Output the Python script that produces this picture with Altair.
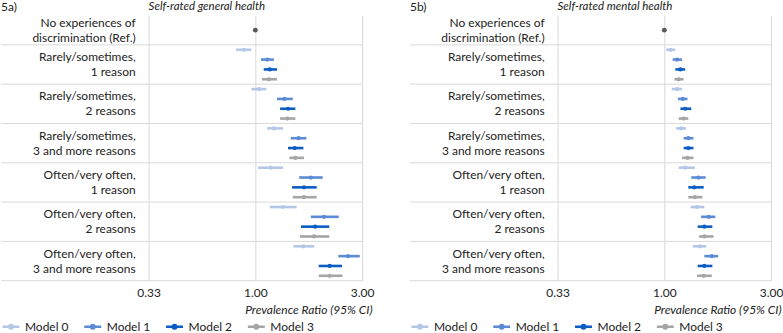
import altair as alt
import pandas as pd

categories = [
    "No experiences of\ndiscrimination (Ref.)",
    "Rarely/sometimes,\n1 reason",
    "Rarely/sometimes,\n2 reasons",
    "Rarely/sometimes,\n3 and more reasons",
    "Often/very often,\n1 reason",
    "Often/very often,\n2 reasons",
    "Often/very often,\n3 and more reasons",
]
models = ["Model 0", "Model 1", "Model 2", "Model 3"]
model_colors = ["#b4c7e7", "#5b8bd5", "#0b5cc3", "#a5a5a5"]
ref_value = 1.0
tick_values = [1 / 3, 1, 3]

# 5a) Self-rated general health (non-reference categories, per model)
gen_m0_est = [0.89, 1.04, 1.21, 1.17, 1.33, 1.64]
gen_m0_lo = [0.82, 0.96, 1.13, 1.03, 1.16, 1.48]
gen_m0_hi = [0.96, 1.12, 1.33, 1.33, 1.53, 1.83]
gen_m1_est = [1.13, 1.35, 1.56, 1.77, 2.03, 2.60]
gen_m1_lo = [1.06, 1.25, 1.44, 1.57, 1.77, 2.35]
gen_m1_hi = [1.21, 1.47, 1.69, 2.00, 2.36, 2.93]
gen_m2_est = [1.16, 1.40, 1.50, 1.65, 1.85, 2.15]
gen_m2_lo = [1.09, 1.29, 1.40, 1.46, 1.60, 1.92]
gen_m2_hi = [1.25, 1.51, 1.64, 1.88, 2.14, 2.44]
gen_m3_est = [1.15, 1.39, 1.51, 1.65, 1.83, 2.15]
gen_m3_lo = [1.07, 1.29, 1.42, 1.47, 1.58, 1.92]
gen_m3_hi = [1.25, 1.51, 1.65, 1.88, 2.14, 2.45]

# 5b) Self-rated mental health
men_m0_est = [1.07, 1.14, 1.19, 1.24, 1.40, 1.44]
men_m0_lo = [1.02, 1.08, 1.13, 1.16, 1.31, 1.34]
men_m0_hi = [1.12, 1.20, 1.25, 1.37, 1.51, 1.54]
men_m1_est = [1.14, 1.21, 1.28, 1.42, 1.58, 1.63]
men_m1_lo = [1.09, 1.15, 1.22, 1.32, 1.46, 1.51]
men_m1_hi = [1.20, 1.27, 1.35, 1.53, 1.69, 1.74]
men_m2_est = [1.18, 1.24, 1.28, 1.36, 1.51, 1.51]
men_m2_lo = [1.12, 1.18, 1.22, 1.28, 1.41, 1.41]
men_m2_hi = [1.24, 1.32, 1.35, 1.50, 1.64, 1.64]
men_m3_est = [1.16, 1.22, 1.27, 1.37, 1.51, 1.50]
men_m3_lo = [1.11, 1.16, 1.20, 1.28, 1.43, 1.40]
men_m3_hi = [1.22, 1.28, 1.35, 1.48, 1.66, 1.63]

FONT = "Lato"
TXT = "#222222"
GRID = "#d9d9d9"
W, H = 214, 266
LABEL_W = 148

# slot layout: reference row uses 3 slots, every other row 4 slots (one per model)
REF_SLOTS = 3
ROW_SLOTS = 4
N_SLOTS = REF_SLOTS + ROW_SLOTS * (len(categories) - 1)


def panel(tag, title, est, lo, hi):
    rows = []
    for j, m in enumerate(models):
        for i in range(len(categories) - 1):
            rows.append(dict(model=m, pos=REF_SLOTS + ROW_SLOTS * i + j + 0.5,
                             est=est[j][i], lo=lo[j][i], hi=hi[j][i]))
    df = pd.DataFrame(rows)
    ref = pd.DataFrame({"pos": [REF_SLOTS / 2], "est": [ref_value]})
    lab = pd.DataFrame({"label": categories,
                        "pos": [REF_SLOTS / 2] + [REF_SLOTS + ROW_SLOTS * i + ROW_SLOTS / 2
                                                   for i in range(len(categories) - 1)]})
    grid = pd.DataFrame({"b": [REF_SLOTS + ROW_SLOTS * i for i in range(len(categories))]})
    tagdf = pd.DataFrame({"t": [tag]})
    titledf = pd.DataFrame({"t": [title]})

    yscale = alt.Scale(domain=[0, N_SLOTS], reverse=True, nice=False, zero=False)
    xscale = alt.Scale(type="log", domain=[1 / 3, 3], nice=False)
    cscale = alt.Scale(domain=models, range=model_colors)
    xaxis = alt.Axis(values=tick_values, format=".2f", ticks=False, domain=False,
                     grid=True, gridColor=GRID, gridWidth=1, labelFlush=False,
                     labelFont=FONT, labelFontSize=12, labelColor=TXT, labelPadding=7,
                     title="Prevalence Ratio (95% CI)", titleFont=FONT, titleFontSize=12,
                     titleFontStyle="italic", titleFontWeight="normal", titleColor=TXT,
                     titleAlign="right", titleAnchor="end", titleX=W + 10, titleY=29,
                     titleBaseline="middle")
    legend = alt.Legend(title=None, orient="none", legendX=-LABEL_W, legendY=H + 36,
                        direction="horizontal", columns=4,
                        symbolType="M-1,0L1,0M-0.2,0A0.2,0.2,0,1,1,0.2,0A0.2,0.2,0,1,1,-0.2,0Z",
                        symbolSize=289, symbolStrokeWidth=2.5, labelFont=FONT,
                        labelFontSize=12, labelColor=TXT, labelOffset=4, columnPadding=10)

    gridlines = alt.Chart(grid).mark_rule(color=GRID, strokeWidth=1).encode(
        y=alt.Y("b:Q", scale=yscale, axis=None),
        x=alt.value(-LABEL_W), x2=alt.value(W))
    labels = alt.Chart(lab).mark_text(align="right", baseline="middle", lineBreak="\n",
                                      lineHeight=15, dy=-7.5, font=FONT, fontSize=12,
                                      color=TXT).encode(
        y=alt.Y("pos:Q", scale=yscale, axis=None), x=alt.value(-13), text="label:N")
    bars = alt.Chart(df).mark_rule(strokeWidth=2.6).encode(
        x=alt.X("lo:Q", scale=xscale, axis=xaxis), x2="hi:Q",
        y=alt.Y("pos:Q", scale=yscale, axis=None),
        color=alt.Color("model:N", scale=cscale, legend=legend))
    points = alt.Chart(df).mark_point(filled=True, size=18, opacity=1).encode(
        x=alt.X("est:Q", scale=xscale, axis=xaxis),
        y=alt.Y("pos:Q", scale=yscale, axis=None),
        color=alt.Color("model:N", scale=cscale, legend=None))
    refpt = alt.Chart(ref).mark_point(filled=True, size=24, opacity=1, color="#595959").encode(
        x=alt.X("est:Q", scale=xscale, axis=xaxis),
        y=alt.Y("pos:Q", scale=yscale, axis=None))
    tagtxt = alt.Chart(tagdf).mark_text(align="left", baseline="middle", font=FONT,
                                        fontSize=12, color=TXT).encode(
        x=alt.value(-LABEL_W), y=alt.value(-8), text="t:N")
    titletxt = alt.Chart(titledf).mark_text(align="left", baseline="middle", font=FONT,
                                            fontSize=11.5, fontStyle="italic", color=TXT).encode(
        x=alt.value(0), y=alt.value(-8), text="t:N")

    return alt.layer(gridlines, labels, bars, points, refpt, tagtxt, titletxt).properties(
        width=W, height=H)


left = panel("5a)", "Self-rated general health",
             [gen_m0_est, gen_m1_est, gen_m2_est, gen_m3_est],
             [gen_m0_lo, gen_m1_lo, gen_m2_lo, gen_m3_lo],
             [gen_m0_hi, gen_m1_hi, gen_m2_hi, gen_m3_hi])
right = panel("5b)", "Self-rated mental health",
              [men_m0_est, men_m1_est, men_m2_est, men_m3_est],
              [men_m0_lo, men_m1_lo, men_m2_lo, men_m3_lo],
              [men_m0_hi, men_m1_hi, men_m2_hi, men_m3_hi])

chart = alt.hconcat(left, right, spacing=35).resolve_scale(
    color="independent", x="independent", y="independent"
).resolve_legend(color="independent").properties(
    padding={"top": 1, "left": 0, "right": 0, "bottom": 0}
).configure_view(strokeWidth=0)

chart.save("out.html", embed_options={"renderer": "svg", "actions": False})
